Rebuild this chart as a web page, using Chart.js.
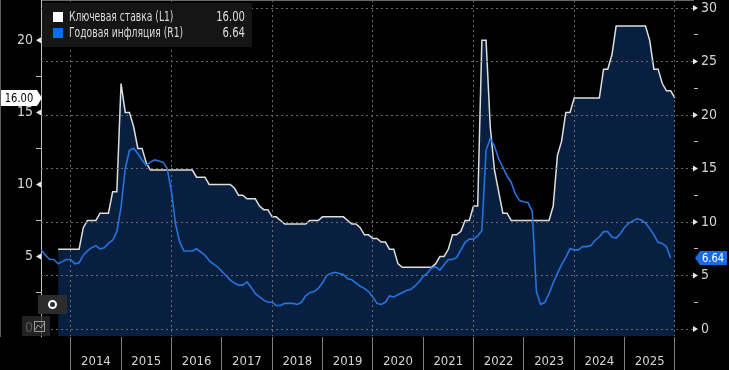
<!DOCTYPE html>
<html>
<head>
<meta charset="utf-8">
<script src="https://cdn.jsdelivr.net/npm/chart.js@4.4.1/dist/chart.umd.min.js"></script>
<style>
  html, body { margin: 0; padding: 0; background: #000; }
  canvas { display: block; }
</style>
</head>
<body>
<canvas id="grafico" width="729" height="370"></canvas>
<script>
// Ключевая ставка ЦБ, конец месяца: сен 2013 – дек 2025
const rateStart = [2013, 9];
const keyRate = [
    5.5, 5.5, 5.5, 5.5,
    5.5, 5.5, 7, 7.5, 7.5, 7.5, 8, 8, 8, 9.5, 9.5, 17,
    15, 15, 14, 12.5, 12.5, 11.5, 11, 11, 11, 11, 11, 11,
    11, 11, 11, 11, 11, 10.5, 10.5, 10.5, 10, 10, 10, 10,
    10, 10, 9.75, 9.25, 9.25, 9, 9, 9, 8.5, 8.25, 8.25, 7.75,
    7.75, 7.5, 7.25, 7.25, 7.25, 7.25, 7.25, 7.25, 7.5, 7.5, 7.5, 7.75,
    7.75, 7.75, 7.75, 7.75, 7.75, 7.5, 7.25, 7.25, 7, 6.5, 6.5, 6.25,
    6.25, 6, 6, 5.5, 5.5, 4.5, 4.25, 4.25, 4.25, 4.25, 4.25, 4.25,
    4.25, 4.25, 4.5, 5, 5, 5.5, 6.5, 6.5, 6.75, 7.5, 7.5, 8.5,
    8.5, 20, 20, 14, 11, 9.5, 8, 8, 7.5, 7.5, 7.5, 7.5,
    7.5, 7.5, 7.5, 7.5, 7.5, 7.5, 8.5, 12, 13, 15, 15, 16,
    16, 16, 16, 16, 16, 16, 18, 18, 19, 21, 21, 21,
    21, 21, 21, 21, 21, 20, 18, 18, 17, 16.5, 16.5, 16
];

// Годовая инфляция, %: май 2013 – ноя 2025
const inflStart = [2013, 5];
const inflation = [
    7.4, 6.9, 6.5, 6.5, 6.1, 6.3, 6.5, 6.5,
    6.1, 6.2, 6.9, 7.3, 7.6, 7.8, 7.5, 7.6, 8.0, 8.3, 9.1, 11.4,
    15.0, 16.7, 16.9, 16.4, 15.8, 15.3, 15.6, 15.8, 15.7, 15.6, 15.0, 12.9,
    9.8, 8.1, 7.3, 7.3, 7.3, 7.5, 7.2, 6.9, 6.4, 6.1, 5.8, 5.4,
    5.0, 4.6, 4.3, 4.1, 4.1, 4.4, 3.9, 3.3, 3.0, 2.7, 2.5, 2.5,
    2.2, 2.2, 2.4, 2.4, 2.4, 2.3, 2.5, 3.1, 3.4, 3.5, 3.8, 4.3,
    5.0, 5.2, 5.3, 5.2, 5.1, 4.7, 4.6, 4.3, 4.0, 3.8, 3.5, 3.0,
    2.4, 2.3, 2.5, 3.1, 3.0, 3.2, 3.4, 3.6, 3.7, 4.0, 4.4, 4.9,
    5.2, 5.7, 5.8, 5.5, 6.0, 6.5, 6.5, 6.7, 7.4, 8.1, 8.4, 8.4,
    8.7, 9.2, 16.7, 17.8, 17.1, 15.9, 15.1, 14.3, 13.7, 12.6, 12.0, 11.9,
    11.8, 11.0, 3.5, 2.3, 2.5, 3.3, 4.3, 5.2, 6.0, 6.7, 7.5, 7.4,
    7.4, 7.7, 7.7, 7.8, 8.3, 8.6, 9.1, 9.1, 8.6, 8.5, 8.9, 9.5,
    9.9, 10.1, 10.3, 10.2, 9.9, 9.4, 8.8, 8.1, 8.0, 7.7, 6.64
];

const seriesNames = ['Ключевая ставка (L1)', 'Годовая инфляция (R1)'];
const yearLabels = ['2014', '2015', '2016', '2017', '2018', '2019', '2020', '2021', '2022', '2023', '2024', '2025'];
const leftTicks = [0, 2.5, 5, 7.5, 10, 12.5, 15, 17.5, 20];
const rightTicks = [0, 2.5, 5, 7.5, 10, 12.5, 15, 17.5, 20, 22.5, 25, 27.5, 30];

const FONT = "'Liberation Sans Narrow', 'DejaVu Sans Condensed', 'Liberation Sans', sans-serif";
const GRID = '#6a6a6a';
const AXIS = '#bdbdbd';
const LABEL = '#d4d4d4';
const WHITE_LINE = '#dedede';
const BLUE_LINE = '#2573de';
const FILL = '#081f40';

// точки на конец месяца
function monthlyPoints(start, values) {
    return values.map((v, i) => ({ x: start[0] + (start[1] + i) / 12, y: v }));
}

// узкий шрифт как у терминала: сжимаем текст по горизонтали
function narrowText(ctx, text, x, y, align, k) {
    ctx.save();
    ctx.translate(x, y);
    ctx.scale(k, 1);
    ctx.textAlign = align;
    ctx.fillText(text, 0, 0);
    ctx.restore();
}

const xTicks = [];
yearLabels.forEach(y => { xTicks.push(+y, +y + 0.5); });
xTicks.push(+yearLabels[yearLabels.length - 1] + 1);

const isMajor = c => c.tick && c.tick.value % 5 === 0;

const overlay = {
    id: 'overlay',
    afterDraw(chart) {
        const { ctx, scales } = chart;
        const left = scales.yL, right = scales.yR;
        ctx.save();

        // треугольники на основных делениях
        ctx.fillStyle = '#e6e6e6';
        leftTicks.filter(v => v % 5 === 0 && v > 0).forEach(v => {
            const y = left.getPixelForValue(v);
            ctx.beginPath();
            ctx.moveTo(left.right, y - 3);
            ctx.lineTo(left.right, y + 3);
            ctx.lineTo(left.right - 5, y);
            ctx.fill();
        });
        rightTicks.filter(v => v % 5 === 0).forEach(v => {
            const y = right.getPixelForValue(v);
            ctx.beginPath();
            ctx.moveTo(right.left, y - 3);
            ctx.lineTo(right.left, y + 3);
            ctx.lineTo(right.left + 5, y);
            ctx.fill();
        });

        // легенда
        const lastRate = keyRate[keyRate.length - 1];
        const lastInfl = inflation[inflation.length - 1];
        ctx.fillStyle = '#151515';
        ctx.fillRect(42, 3, 210, 44);
        ctx.fillStyle = '#ffffff';
        ctx.fillRect(53, 12, 10, 10);
        ctx.fillStyle = '#0a6cff';
        ctx.fillRect(53, 28, 10, 10);
        ctx.font = '14px ' + FONT;
        ctx.textBaseline = 'middle';
        ctx.fillStyle = '#dcdcdc';
        narrowText(ctx, seriesNames[0], 69, 17.5, 'left', 0.73);
        narrowText(ctx, seriesNames[1], 69, 33.5, 'left', 0.73);
        narrowText(ctx, lastRate.toFixed(2), 245, 17.5, 'right', 0.8);
        narrowText(ctx, lastInfl.toFixed(2), 245, 33.5, 'right', 0.8);

        // метка последнего значения ставки
        ctx.font = '13px ' + FONT;
        let y = left.getPixelForValue(lastRate);
        ctx.fillStyle = '#ffffff';
        ctx.beginPath();
        ctx.moveTo(1, y - 8);
        ctx.lineTo(37, y - 8);
        ctx.lineTo(42, y);
        ctx.lineTo(37, y + 8);
        ctx.lineTo(1, y + 8);
        ctx.closePath();
        ctx.fill();
        ctx.fillStyle = '#000';
        narrowText(ctx, lastRate.toFixed(2), 19, y + 0.5, 'center', 0.85);

        // метка последнего значения инфляции
        y = right.getPixelForValue(lastInfl);
        ctx.fillStyle = '#1a6ae0';
        ctx.beginPath();
        ctx.moveTo(695, y);
        ctx.lineTo(700, y - 7);
        ctx.lineTo(727, y - 7);
        ctx.lineTo(727, y + 7);
        ctx.lineTo(700, y + 7);
        ctx.closePath();
        ctx.fill();
        ctx.fillStyle = '#fff';
        narrowText(ctx, lastInfl.toFixed(2), 702, y + 0.5, 'left', 0.85);

        // кнопки внизу слева
        ctx.fillStyle = '#2c2c2c';
        ctx.fillRect(38, 295, 29, 19);
        ctx.strokeStyle = '#fff';
        ctx.lineWidth = 2;
        ctx.beginPath();
        ctx.arc(52.5, 304.5, 3.5, 0, Math.PI * 2);
        ctx.stroke();
        ctx.fillStyle = 'rgba(45,45,45,0.75)';
        ctx.fillRect(22, 316, 28, 20);
        ctx.strokeStyle = '#9a9a9a';
        ctx.lineWidth = 1;
        ctx.strokeRect(34.5, 321.5, 10, 10);
        ctx.beginPath();
        ctx.moveTo(35, 330);
        ctx.lineTo(38, 325);
        ctx.lineTo(41, 328);
        ctx.lineTo(45, 322);
        ctx.stroke();

        ctx.restore();
    }
};

new Chart(document.getElementById('grafico'), {
    type: 'line',
    data: {
        datasets: [
            {
                label: seriesNames[1],
                data: monthlyPoints(inflStart, inflation),
                yAxisID: 'yR',
                borderColor: BLUE_LINE,
                borderWidth: 1.6,
                pointRadius: 0,
                fill: false,
                tension: 0
            },
            {
                label: seriesNames[0],
                data: monthlyPoints(rateStart, keyRate),
                yAxisID: 'yL',
                borderColor: WHITE_LINE,
                borderWidth: 1.5,
                backgroundColor: FILL,
                fill: 'start',
                pointRadius: 0,
                tension: 0
            }
        ]
    },
    options: {
        responsive: false,
        animation: false,
        devicePixelRatio: 1,
        layout: { padding: 0 },
        plugins: {
            legend: { display: false },
            tooltip: { enabled: false }
        },
        scales: {
            x: {
                type: 'linear',
                position: 'bottom',
                min: 2013.41,
                max: 2026.36,
                afterBuildTicks: s => { s.ticks = xTicks.map(v => ({ value: v })); },
                afterFit: s => { s.height = 34; s.paddingLeft = 0; s.paddingRight = 0; },
                ticks: {
                    autoSkip: false,
                    maxRotation: 0,
                    padding: -16,
                    color: LABEL,
                    font: { family: FONT, size: 13 },
                    callback: v => (v % 1 ? String(Math.floor(v)) : '')
                },
                grid: {
                    z: 1,
                    color: c => (c.tick && c.tick.value % 2 === 0 ? GRID : 'transparent'),
                    tickColor: c => (c.tick && c.tick.value % 1 === 0 ? '#808080' : 'transparent'),
                    tickLength: 34
                },
                border: { color: '#d0d0d0', dash: [2, 3] }
            },
            yL: {
                position: 'left',
                min: -0.52,
                max: 22.8,
                afterBuildTicks: s => { s.ticks = leftTicks.map(v => ({ value: v })); },
                afterFit: s => { s.width = 41; s.paddingTop = 0; s.paddingBottom = 0; },
                ticks: {
                    padding: 3,
                    color: LABEL,
                    font: { family: FONT, size: 14 },
                    callback: v => (v % 5 === 0 ? String(v) : '')
                },
                grid: {
                    drawOnChartArea: false,
                    tickLength: 5,
                    tickColor: c => (isMajor(c) ? 'transparent' : AXIS)
                },
                border: { color: AXIS }
            },
            yR: {
                position: 'right',
                min: -0.65,
                max: 30.75,
                afterBuildTicks: s => { s.ticks = rightTicks.map(v => ({ value: v })); },
                afterFit: s => { s.width = 36; s.paddingTop = 0; s.paddingBottom = 0; },
                ticks: {
                    padding: 3,
                    color: LABEL,
                    font: { family: FONT, size: 14 },
                    callback: v => (v % 5 === 0 ? String(v) : '')
                },
                grid: {
                    z: 1,
                    color: c => (isMajor(c) ? GRID : 'transparent'),
                    tickLength: 5,
                    tickColor: c => (isMajor(c) ? 'transparent' : AXIS)
                },
                border: { color: AXIS, dash: [2, 3] }
            }
        }
    },
    plugins: [overlay]
});
</script>
</body>
</html>
